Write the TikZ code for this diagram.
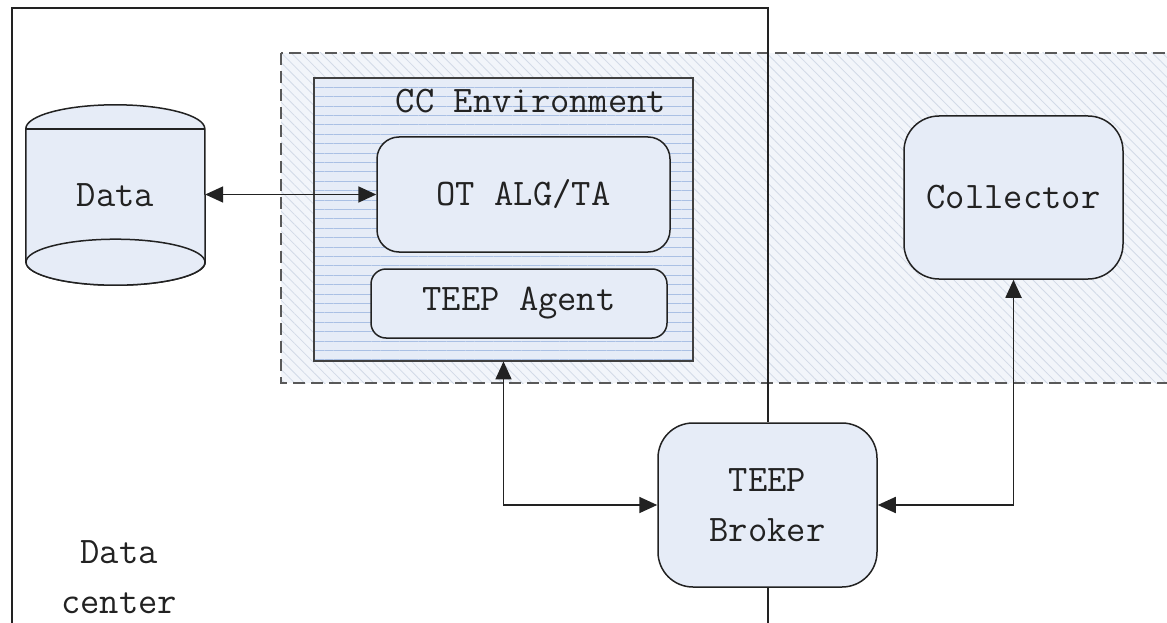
\documentclass[tikz,border=0pt]{standalone}
\usepackage{fontspec}
\setmonofont{Latin Modern Mono}
\usetikzlibrary{arrows.meta,patterns.meta}

\definecolor{nodefill}{HTML}{E6ECF7}
\definecolor{zonefill}{HTML}{F2F5FA}
\definecolor{zonehatch}{HTML}{D2DAE7}
\definecolor{envline}{HTML}{AAC0E4}
\definecolor{ink}{HTML}{222222}

\tikzset{
  txt/.style={font=\ttfamily\fontsize{37.5}{50}\selectfont, text=ink},
  box/.style={txt, draw=ink, line width=1.5pt, fill=nodefill, rounded corners=#1,
              inner sep=0pt, align=center},
  frame/.style={draw=ink, line width=2pt},
  link/.style={draw=ink, line width=1.8pt, {Triangle[length=18pt,width=16pt]}-{Triangle[length=18pt,width=16pt]}},
  zone/.style={draw=black!65, line width=2.6pt, dash pattern=on 12pt off 6pt,
               preaction={fill=zonefill},
               pattern={Lines[angle=-45,distance=7pt,line width=0.8pt]}, pattern color=zonehatch},
  envbox/.style={draw=black!75, line width=2.4pt, inner sep=0pt,
                 preaction={fill=nodefill},
                 pattern={Lines[angle=0,distance=9.4pt,line width=0.8pt]}, pattern color=envline},
}

\begin{document}
\begin{tikzpicture}[x=1pt,y=-1pt]
  \path[use as bounding box, clip] (0,0) rectangle (1167,623);

  % shared confidential-computing zone
  \path[zone] (281,53) rectangle (1185,383);

  % CC environment with its two components
  \node[envbox, minimum width=379pt, minimum height=283pt] (cc) at (503.5,219.5) {};
  \node[txt] (cctitle) at (531,101) {CC Environment};
  \node[box=22pt, minimum width=293pt, minimum height=115pt] (ot) at (523.5,194.5) {OT ALG/TA};
  \node[box=15pt, minimum width=296pt, minimum height=69pt] (agent) at (519,303.5) {TEEP Agent};

  % broker and collector
  \node[box=35pt, minimum width=219pt, minimum height=164pt] (broker) at (767.5,505) {TEEP\\Broker};
  \node[box=35pt, minimum width=219pt, minimum height=163pt] (collector) at (1013.5,197.5) {Collector};

  % data center boundary
  \draw[frame] (12,640) -- (12,8) -- (767.5,8) -- (broker.north);
  \draw[frame] (broker.south) -- (767.5,640);
  \node[txt, align=center] (dc) at (119,577) {Data\\center};

  % data store drawn as a cylinder
  \node[txt, minimum width=179pt, minimum height=133pt, inner sep=0pt] (data) at (115.5,195.5) {};
  \path[draw=ink, line width=1.5pt, fill=nodefill]
    (data.south west) -- (data.north west)
    arc[start angle=180, end angle=0, x radius=89.5pt, y radius=24pt]
    -- (data.south east)
    arc[start angle=0, end angle=-180, x radius=89.5pt, y radius=23pt] -- cycle;
  \draw[draw=ink, line width=1.5pt] (data.north west) -- (data.north east);
  \draw[draw=ink, line width=1.5pt, fill=nodefill] (data.south) ellipse[x radius=89.5pt, y radius=23pt];
  \node[txt] (datalabel) at (data.center) {Data};

  % connectors
  \draw[link] (data.east |- ot.west) -- (ot.west);
  \draw[link] (cc.south) |- (broker.west);
  \draw[link] (broker.east) -| (collector.south);
\end{tikzpicture}
\end{document}
